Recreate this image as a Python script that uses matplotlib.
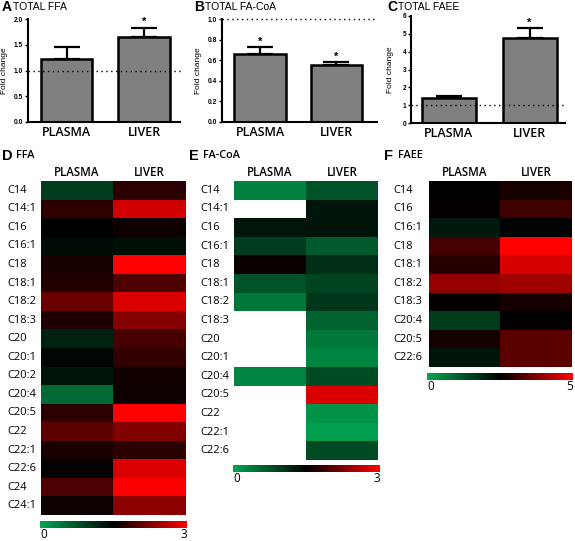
import numpy as np
import matplotlib
matplotlib.use("Agg")
import matplotlib.pyplot as plt
from matplotlib.colors import LinearSegmentedColormap
from matplotlib.transforms import blended_transform_factory

W, H = 575, 541

# ---- top bar charts: fold change (mean, upper SEM) ----
groups = ["PLASMA", "LIVER"]
ffa_total = [1.23, 1.65]
ffa_total_err = [0.22, 0.18]
facoa_total = [0.665, 0.55]
facoa_total_err = [0.06, 0.03]
faee_total = [1.42, 4.75]
faee_total_err = [0.08, 0.55]

# ---- heatmaps: colour scale values ----
ffa_rows = ["C14", "C14:1", "C16", "C16:1", "C18", "C18:1", "C18:2", "C18:3",
            "C20", "C20:1", "C20:2", "C20:4", "C20:5", "C22", "C22:1", "C22:6",
            "C24", "C24:1"]
ffa_plasma = [0.95, 1.78, 1.50, 1.40, 1.65, 1.70, 2.13, 1.68,
              1.20, 1.43, 1.32, 0.55, 1.75, 2.05, 1.65, 1.53, 1.95, 1.58]
ffa_liver = [1.75, 2.73, 1.58, 1.35, 3.00, 1.95, 2.78, 2.28,
             1.92, 1.80, 1.60, 1.58, 3.00, 2.25, 1.75, 2.78, 2.97, 2.33]

facoa_rows = ["C14", "C14:1", "C16", "C16:1", "C18", "C18:1", "C18:2", "C18:3",
              "C20", "C20:1", "C20:4", "C20:5", "C22", "C22:1", "C22:6"]
facoa_plasma = [0.33, np.nan, 1.30, 0.96, 1.56, 0.75, 0.42, np.nan,
                np.nan, np.nan, 0.30, np.nan, np.nan, np.nan, np.nan]
facoa_liver = [0.75, 1.30, 1.32, 0.69, 1.08, 0.90, 1.00, 0.60,
               0.42, 0.30, 0.83, 2.78, 0.18, 0.08, 0.83]

faee_rows = ["C14", "C16", "C16:1", "C18", "C18:1", "C18:2", "C18:3",
             "C20:4", "C20:5", "C22:6"]
faee_plasma = [2.50, 2.55, 2.12, 3.18, 2.88, 3.95, 2.55, 1.62, 2.70, 2.20]
faee_liver = [2.75, 3.12, 2.45, 5.00, 4.62, 4.05, 2.70, 2.50, 3.38, 3.38]

cmap = LinearSegmentedColormap.from_list("gkr", ["#00a651", "#000000", "#ff0000"])
cmap.set_bad("white")

lab_font = "Open Sans"
num_font = "Liberation Sans"

fig = plt.figure(figsize=(W / 100, H / 100), dpi=100)


def rect(x0, y0, x1, y1):
    return [x0 / W, 1 - y1 / H, (x1 - x0) / W, (y1 - y0) / H]


def bar_panel(box, vals, errs, yticks, fmt, xlim, letter, title, stars, letter_xy, ylab_x):
    ax = fig.add_axes(rect(*box))
    x = [0, 1]
    ax.bar(x, vals, width=0.67, color="#808080", edgecolor="black", linewidth=1.8, zorder=2)
    ax.errorbar(x, vals, yerr=[[0, 0], errs], fmt="none", ecolor="black",
                elinewidth=1.6, capsize=9.5, capthick=1.6, zorder=1)
    ax.axhline(1.0, color="black", linestyle=(0, (1, 2.5)), linewidth=1.0, clip_on=False, zorder=3)
    ax.set_xlim(*xlim)
    ax.set_ylim(yticks[0], yticks[-1])
    ax.set_yticks(yticks)
    ax.set_yticklabels([fmt.format(t) for t in yticks], fontsize=4.8,
                       fontweight="bold", family=num_font)
    ax.set_xticks(x)
    ax.set_xticklabels(groups, fontsize=9, fontweight="semibold", family=lab_font)
    ax.tick_params(axis="x", length=0, pad=3)
    ax.tick_params(axis="y", length=2.5, width=1.0, pad=1)
    for s in ["top", "right"]:
        ax.spines[s].set_visible(False)
    for s in ["left", "bottom"]:
        ax.spines[s].set_linewidth(1.5)
    ax.patch.set_alpha(0)
    for i in x:
        if stars[i]:
            ax.annotate("*", (i, vals[i] + errs[i]), xytext=(0, 0.5),
                        textcoords="offset points", ha="center", va="bottom",
                        fontsize=8, fontweight="bold", family=num_font)
    fig.text(ylab_x / W, 1 - ((box[1] + box[3]) / 2) / H, "Fold change", rotation=90,
             ha="center", va="center", fontsize=6, family=num_font)
    fig.text(letter_xy[0] / W, 1 - letter_xy[1] / H, letter, fontsize=10,
             fontweight="bold", family=num_font, ha="left", va="center")
    fig.text((letter_xy[0] + 11) / W, 1 - letter_xy[1] / H, title, fontsize=7.5,
             family=num_font, ha="left", va="center")
    return ax


bar_panel((28, 19, 180, 122), ffa_total, ffa_total_err, [0.0, 0.5, 1.0, 1.5, 2.0], "{:.1f}",
          (-0.497, 1.465), "A", "TOTAL FFA", [False, True], (2, 7), 5)
bar_panel((222, 19, 377, 122), facoa_total, facoa_total_err, [0.0, 0.2, 0.4, 0.6, 0.8, 1.0],
          "{:.1f}", (-0.497, 1.53), "B", "TOTAL FA-CoA", [True, True], (194, 7), 198)
bar_panel((411, 16, 565, 123), faee_total, faee_total_err, [0, 1, 2, 3, 4, 5, 6], "{:d}",
          (-0.47, 1.44), "C", "TOTAL FAEE", [False, True], (387, 7), 391)


def heat_panel(box, rows, plasma, liver, vmax, label_x, letter, title, letter_xy, cbar_box):
    data = np.column_stack([plasma, liver])
    ax = fig.add_axes(rect(*box))
    ax.imshow(np.ma.masked_invalid(data), cmap=cmap, vmin=0, vmax=vmax,
              aspect="auto", interpolation="nearest")
    ax.set_axis_off()
    tr = blended_transform_factory(fig.transFigure, ax.transData)
    for i, r in enumerate(rows):
        ax.text(label_x / W, i, r, transform=tr, ha="left", va="center",
                fontsize=8, family=lab_font)
    trx = blended_transform_factory(ax.transData, fig.transFigure)
    for j, g in enumerate(groups):
        ax.text(j, 1 - 173 / H, g, transform=trx, ha="center", va="center",
                fontsize=8.3, fontweight="semibold", family=lab_font)
    fig.text(letter_xy[0] / W, 1 - letter_xy[1] / H, letter, fontsize=10.5,
             fontweight="bold", family=num_font, ha="left", va="center")
    fig.text((letter_xy[0] + 14) / W, 1 - letter_xy[1] / H, title, fontsize=7.8,
             fontweight="semibold", family=lab_font, ha="left", va="center")
    cax = fig.add_axes(rect(*cbar_box))
    cax.imshow(np.linspace(0, vmax, 256)[None, :], cmap=cmap, vmin=0, vmax=vmax,
               aspect="auto")
    cax.set_axis_off()
    ty = 1 - (cbar_box[3] + 7) / H
    fig.text(cbar_box[0] / W, ty, "0", fontsize=8.5, family=lab_font, ha="left", va="center")
    fig.text(cbar_box[2] / W, ty, str(vmax), fontsize=8.5, family=lab_font, ha="right", va="center")


heat_panel((41, 181, 185, 515), ffa_rows, ffa_plasma, ffa_liver, 3, 7,
           "D", "FFA", (2, 156), (40, 521, 187, 528))
heat_panel((234, 181, 378, 460), facoa_rows, facoa_plasma, facoa_liver, 3, 200,
           "E", "FA-CoA", (189, 156), (233, 465, 380, 472))
heat_panel((429, 181, 572, 367), faee_rows, faee_plasma, faee_liver, 5, 393,
           "F", "FAEE", (384, 156), (427, 373, 573, 380))

fig.savefig("out.png", dpi=100)
